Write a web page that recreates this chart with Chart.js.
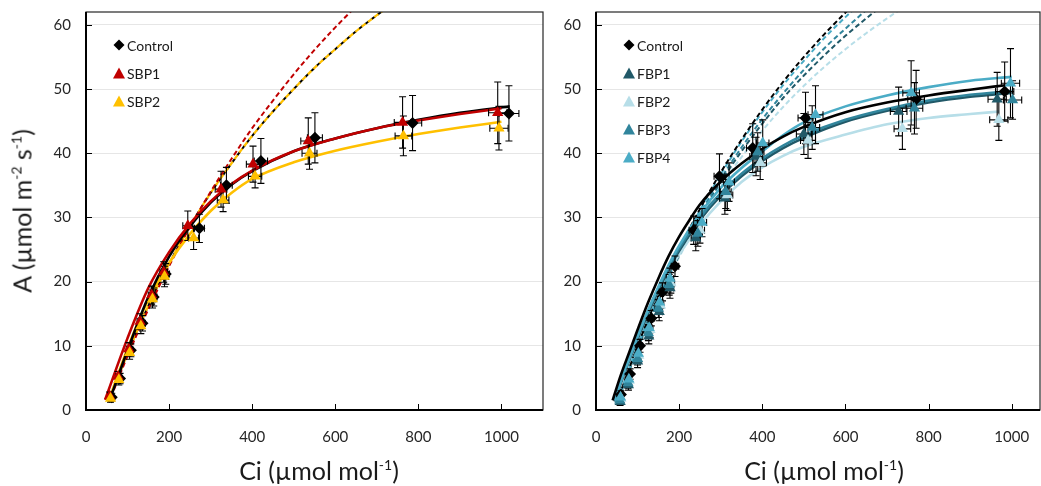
<!DOCTYPE html>
<html>
<head>
<meta charset="utf-8">
<script src="https://cdn.jsdelivr.net/npm/chart.js@4.4.1/dist/chart.umd.min.js"></script>
<style>
    html, body { margin: 0; padding: 0; background: #fff; }
    #wrap { position: relative; width: 1041px; height: 486px; overflow: hidden; font-family: Lato, "Open Sans", sans-serif; color: #1a1a1a; }
    .panel { position: absolute; top: 0; }
    .axis-title { position: absolute; font-size: 25px; white-space: nowrap; line-height: 1; }
    .axis-title sup { font-size: 14px; vertical-align: 10px; line-height: 0; }
    .legend { position: absolute; font-size: 14px; }
    .legend .row { height: 28px; display: flex; align-items: center; }
    .legend svg { margin-right: 2px; }
</style>
</head>
<body>
<div id="wrap">
    <canvas id="leftChart" class="panel" width="550" height="486" style="left:0"></canvas>
    <canvas id="rightChart" class="panel" width="496" height="486" style="left:545px"></canvas>

    <div class="axis-title" id="yTitle" style="left:22px; top:211px; transform: translate(-50%, -50%) rotate(-90deg);">A (µmol m<sup>-2</sup> s<sup>-1</sup>)</div>
    <div class="axis-title" style="left:319px; top:470px; transform: translate(-50%, -50%);">Ci (µmol mol<sup>-1</sup>)</div>
    <div class="axis-title" style="left:824px; top:470px; transform: translate(-50%, -50%);">Ci (µmol mol<sup>-1</sup>)</div>

    <div class="legend" id="leftLegend" style="left:113px; top:31px;"></div>
    <div class="legend" id="rightLegend" style="left:623px; top:31px;"></div>
</div>

<script>
(function () {
    'use strict';

    // ---- left panel: measured points (Ci, A, error in A, error in Ci) ----
    var leftCtrlCi = [62, 82, 108, 136, 163, 192, 273, 338, 421, 551, 786, 1018];
    var leftCtrlA = [2.0, 4.9, 9.3, 13.5, 17.6, 21.2, 28.3, 35.0, 38.8, 42.4, 44.7, 46.2];
    var leftCtrlErrA = [0.6, 0.8, 1.0, 1.2, 1.4, 1.6, 2.2, 2.8, 3.5, 3.9, 4.3, 4.3];
    var leftCtrlErrCi = [5, 5, 6, 7, 8, 9, 12, 14, 16, 18, 22, 24];

    var sbp1Ci = [57, 77, 103, 130, 158, 187, 245, 325, 402, 535, 762, 991];
    var sbp1A = [2.2, 5.2, 9.5, 13.8, 17.9, 21.5, 28.7, 34.4, 38.3, 41.9, 44.8, 46.3];
    var sbp1ErrA = [0.6, 0.8, 1.0, 1.2, 1.4, 1.6, 2.3, 2.8, 2.8, 3.6, 4.0, 4.8];
    var sbp1ErrCi = [5, 5, 6, 7, 8, 9, 12, 14, 16, 18, 20, 22];

    var sbp2Ci = [59, 79, 105, 132, 160, 189, 259, 330, 407, 538, 764, 994];
    var sbp2A = [1.8, 4.7, 8.9, 13.1, 17.3, 20.8, 26.8, 32.7, 36.4, 40.0, 42.7, 43.9];
    var sbp2ErrA = [0.6, 0.8, 1.0, 1.2, 1.4, 1.6, 1.8, 1.8, 1.8, 2.5, 3.1, 3.4];
    var sbp2ErrCi = [5, 5, 6, 7, 8, 9, 12, 14, 16, 18, 20, 22];

    // ---- left panel: fitted curves (solid) and Rubisco-limited curves (dashed) ----
    var leftCtrlFitCi = [55, 100, 150, 200, 250, 300, 350, 400, 500, 600, 700, 800, 900, 1020];
    var leftCtrlFitA = [1.2, 9.3, 17.6, 23.9, 28.6, 32.3, 35.1, 37.2, 40.3, 42.3, 43.9, 45.2, 46.3, 47.3];
    var sbp1FitCi = [46, 100, 150, 200, 250, 300, 350, 400, 500, 600, 700, 800, 900, 1000];
    var sbp1FitA = [1.6, 11.2, 19.0, 24.6, 29.0, 32.5, 35.2, 37.3, 40.3, 42.3, 43.9, 45.1, 46.1, 47.0];
    var sbp2FitCi = [55, 100, 150, 200, 250, 300, 350, 400, 500, 600, 700, 800, 900, 1000];
    var sbp2FitA = [1.5, 9.6, 17.2, 22.9, 27.4, 31.0, 33.8, 36.0, 38.6, 40.4, 41.8, 43.0, 44.0, 44.9];

    var leftCtrlRubCi = [60, 100, 150, 200, 250, 300, 350, 400, 450, 500, 550, 600, 650, 700, 750];
    var leftCtrlRubA = [2.2, 8.8, 16.2, 22.8, 28.6, 33.8, 38.4, 42.7, 46.5, 50.0, 53.3, 56.2, 59.0, 61.5, 63.8];
    var sbp1RubCi = [60, 100, 150, 200, 250, 300, 350, 400, 450, 500, 550, 600, 650];
    var sbp1RubA = [2.0, 8.4, 15.7, 22.4, 28.5, 34.0, 39.1, 43.9, 48.2, 52.3, 56.1, 59.6, 62.9];
    var sbp2RubCi = [60, 100, 150, 200, 250, 300, 350, 400, 450, 500, 550, 600, 650, 700, 750];
    var sbp2RubA = [2.2, 8.8, 16.2, 22.8, 28.6, 33.8, 38.4, 42.7, 46.5, 50.0, 53.3, 56.2, 59.0, 61.5, 63.8];

    // ---- right panel: measured points ----
    var rightCtrlCi = [60, 82, 106, 133, 160, 190, 235, 297, 377, 504, 770, 983];
    var rightCtrlA = [2.4, 5.6, 10.0, 14.3, 18.4, 22.4, 28.0, 36.4, 40.8, 45.5, 48.4, 49.6];
    var rightCtrlErrA = [0.6, 0.8, 1.0, 1.2, 1.4, 1.6, 2.2, 3.5, 3.8, 4.0, 4.5, 4.6];
    var rightCtrlErrCi = [5, 5, 6, 7, 8, 9, 11, 13, 15, 18, 20, 22];

    var fbp1Ci = [58, 78, 100, 127, 152, 178, 240, 310, 385, 500, 728, 965];
    var fbp1A = [1.3, 3.9, 7.6, 11.5, 15.3, 19.0, 26.8, 33.0, 39.5, 43.0, 46.5, 48.4];
    var fbp1ErrA = [0.6, 0.8, 1.0, 1.2, 1.4, 1.6, 2.0, 2.5, 3.0, 3.2, 3.8, 4.2];
    var fbp1ErrCi = [5, 5, 6, 7, 8, 9, 11, 13, 15, 18, 20, 22];

    var fbp2Ci = [60, 80, 103, 130, 155, 180, 250, 316, 395, 510, 737, 969];
    var fbp2A = [1.8, 4.6, 8.5, 12.5, 16.3, 19.8, 28.0, 33.5, 38.5, 42.0, 43.8, 45.2];
    var fbp2ErrA = [0.6, 0.8, 1.0, 1.2, 1.4, 1.6, 2.0, 2.4, 2.6, 2.8, 3.2, 3.2];
    var fbp2ErrCi = [5, 5, 6, 7, 8, 9, 11, 13, 15, 18, 20, 22];

    var fbp3Ci = [57, 77, 100, 126, 150, 176, 245, 312, 389, 520, 766, 1002];
    var fbp3A = [1.5, 4.2, 8.0, 12.0, 15.8, 19.5, 27.5, 34.0, 40.2, 44.0, 47.0, 48.3];
    var fbp3ErrA = [0.6, 0.8, 1.0, 1.2, 1.4, 1.6, 2.0, 2.6, 3.0, 3.4, 4.0, 3.0];
    var fbp3ErrCi = [5, 5, 6, 7, 8, 9, 11, 13, 15, 18, 20, 22];

    var fbp4Ci = [59, 79, 102, 128, 153, 178, 255, 320, 401, 528, 758, 997];
    var fbp4A = [2.0, 4.8, 8.8, 12.8, 16.8, 20.5, 29.2, 35.5, 41.6, 46.0, 49.4, 50.9];
    var fbp4ErrA = [0.6, 0.8, 1.0, 1.2, 1.4, 1.6, 2.2, 3.0, 3.6, 4.5, 5.0, 5.4];
    var fbp4ErrCi = [5, 5, 6, 7, 8, 9, 11, 13, 15, 18, 20, 22];

    // ---- right panel: fitted curves ----
    var rightCtrlFitCi = [40, 60, 80, 100, 125, 150, 175, 200, 225, 250, 300, 350, 400, 450, 500, 600, 700, 800, 900, 985];
    var rightCtrlFitA = [1.5, 5.5, 9.0, 12.5, 16.7, 20.5, 24.0, 27.0, 29.6, 32.0, 35.6, 38.4, 40.7, 42.6, 44.1, 46.4, 47.9, 49.0, 49.9, 50.6];
    var fbp1FitCi = [45, 60, 80, 100, 125, 150, 175, 200, 250, 300, 350, 400, 450, 500, 600, 700, 800, 900, 1000];
    var fbp1FitA = [1.3, 4.2, 7.7, 11.0, 15.0, 18.6, 21.9, 24.8, 29.6, 33.4, 36.4, 38.8, 40.8, 42.4, 44.9, 46.6, 47.9, 48.8, 49.4];
    var fbp2FitCi = [45, 60, 80, 100, 125, 150, 175, 200, 250, 300, 350, 400, 450, 500, 600, 700, 800, 900, 970];
    var fbp2FitA = [1.4, 4.3, 7.8, 11.1, 15.0, 18.4, 21.5, 24.2, 28.8, 32.5, 35.5, 37.8, 39.6, 41.0, 42.9, 44.5, 45.5, 46.1, 46.5];
    var fbp3FitCi = [45, 60, 80, 100, 125, 150, 175, 200, 250, 300, 350, 400, 450, 500, 600, 700, 800, 900, 1000];
    var fbp3FitA = [1.5, 4.5, 8.0, 11.4, 15.4, 19.0, 22.3, 25.2, 30.0, 33.8, 36.8, 39.2, 41.2, 42.8, 45.2, 46.9, 48.2, 49.1, 49.7];
    var fbp4FitCi = [45, 60, 80, 100, 125, 150, 175, 200, 250, 300, 350, 400, 450, 500, 600, 700, 800, 900, 1000];
    var fbp4FitA = [1.5, 4.5, 8.0, 11.5, 15.5, 19.2, 22.6, 25.6, 30.6, 34.6, 37.7, 40.3, 42.8, 44.8, 47.3, 49.0, 50.3, 51.3, 51.9];

    var rightCtrlRubCi = [50, 60, 100, 150, 200, 250, 300, 350, 400, 450, 500, 550, 600, 650];
    var rightCtrlRubA = [1.0, 2.9, 10.0, 17.9, 25.0, 31.3, 37.0, 42.1, 46.8, 51.1, 55.0, 58.6, 61.9, 65.0];
    var fbp4RubCi = [60, 100, 150, 200, 250, 300, 350, 400, 450, 500, 550, 600, 650];
    var fbp4RubA = [2.9, 10.0, 17.8, 24.9, 31.1, 36.7, 41.8, 46.4, 50.6, 54.4, 58.0, 61.2, 64.2];
    var fbp3RubCi = [60, 100, 150, 200, 250, 300, 350, 400, 450, 500, 550, 600, 650, 700];
    var fbp3RubA = [2.8, 9.8, 17.5, 24.4, 30.5, 36.0, 40.9, 45.3, 49.3, 53.0, 56.4, 59.4, 62.3, 65.0];
    var fbp1RubCi = [60, 100, 150, 200, 250, 300, 350, 400, 450, 500, 550, 600, 650, 700];
    var fbp1RubA = [2.6, 9.5, 17.2, 24.1, 30.1, 35.5, 40.3, 44.6, 48.6, 52.1, 55.3, 58.3, 61.0, 63.6];
    var fbp2RubCi = [60, 100, 150, 200, 250, 300, 350, 400, 450, 500, 550, 600, 650, 700, 750];
    var fbp2RubA = [2.5, 9.4, 17.0, 23.8, 29.7, 34.9, 39.4, 43.5, 47.2, 50.5, 53.5, 56.2, 58.7, 61.0, 63.2];

    var yTicks = [0, 10, 20, 30, 40, 50, 60];
    var xTicks = [0, 200, 400, 600, 800, 1000];

    var C = {
        control: '#000000',
        sbp1: '#C00000',
        sbp2: '#FFC000',
        fbp1: '#215968',
        fbp2: '#B7DEE8',
        fbp3: '#31859C',
        fbp4: '#4BACC6'
    };

    function pts(xs, ys) {
        return xs.map(function (x, i) { return { x: x, y: ys[i] }; });
    }

    function markers(label, xs, ys, errY, errX, color, shape, order) {
        return {
            label: label,
            kind: 'points',
            data: pts(xs, ys),
            errY: errY,
            errX: errX,
            showLine: false,
            pointStyle: shape,
            pointRadius: shape === 'rectRot' ? 6 : 6.5,
            pointHoverRadius: shape === 'rectRot' ? 6 : 6.5,
            pointBorderWidth: 0,
            backgroundColor: color,
            borderColor: color,
            order: order
        };
    }

    function curve(xs, ys, color, dashed, order, width, offset) {
        return {
            kind: 'curve',
            data: pts(xs, ys),
            showLine: true,
            pointRadius: 0,
            pointHoverRadius: 0,
            borderColor: color,
            borderWidth: width || (dashed ? 2 : 2.6),
            borderDash: dashed ? [5, 3] : [],
            borderDashOffset: offset || 0,
            cubicInterpolationMode: 'monotone',
            fill: false,
            order: order
        };
    }

    // error bars, drawn just before the first marker dataset
    function drawErrorBars(chart) {
        var ctx = chart.ctx, xs = chart.scales.x, ys = chart.scales.y;
        ctx.save();
        ctx.strokeStyle = '#000';
        ctx.lineWidth = 1.1;
        chart.data.datasets.forEach(function (ds) {
            if (ds.kind !== 'points') return;
            ds.data.forEach(function (p, i) {
                var px = xs.getPixelForValue(p.x), py = ys.getPixelForValue(p.y);
                var t = ys.getPixelForValue(p.y + ds.errY[i]), b = ys.getPixelForValue(p.y - ds.errY[i]);
                var l = xs.getPixelForValue(p.x - ds.errX[i]), r = xs.getPixelForValue(p.x + ds.errX[i]);
                ctx.beginPath();
                ctx.moveTo(px, t); ctx.lineTo(px, b);
                ctx.moveTo(px - 3.5, t); ctx.lineTo(px + 3.5, t);
                ctx.moveTo(px - 3.5, b); ctx.lineTo(px + 3.5, b);
                ctx.moveTo(l, py); ctx.lineTo(r, py);
                ctx.moveTo(l, py - 3.5); ctx.lineTo(l, py + 3.5);
                ctx.moveTo(r, py - 3.5); ctx.lineTo(r, py + 3.5);
                ctx.stroke();
            });
        });
        ctx.restore();
    }

    var errorBarPlugin = {
        id: 'errorBars',
        beforeDatasetsDraw: function (chart) { chart._barsDone = false; },
        beforeDatasetDraw: function (chart, args) {
            var ds = chart.data.datasets[args.index];
            if (ds.kind === 'points' && !chart._barsDone) {
                drawErrorBars(chart);
                chart._barsDone = true;
            }
        }
    };

    // frame round the plot area plus inward tick marks
    var framePlugin = {
        id: 'frame',
        afterDraw: function (chart) {
            var a = chart.chartArea, ctx = chart.ctx;
            var xs = chart.scales.x, ys = chart.scales.y;
            ctx.save();
            ctx.strokeStyle = '#262626';
            ctx.lineWidth = 1.2;
            ctx.strokeRect(a.left, a.top, a.right - a.left, a.bottom - a.top);
            ctx.lineWidth = 2;
            ctx.strokeStyle = '#000';
            ctx.beginPath();
            ctx.moveTo(a.left, a.top); ctx.lineTo(a.left, a.bottom); ctx.lineTo(a.right, a.bottom);
            ctx.stroke();
            ctx.lineWidth = 1;
            ctx.beginPath();
            xTicks.forEach(function (v) {
                var px = Math.round(xs.getPixelForValue(v)) + 0.5;
                ctx.moveTo(px, a.bottom); ctx.lineTo(px, a.bottom - 6);
            });
            yTicks.forEach(function (v) {
                var py = Math.round(ys.getPixelForValue(v)) + 0.5;
                ctx.moveTo(a.left, py); ctx.lineTo(a.left + 6, py);
            });
            ctx.stroke();
            ctx.restore();
        }
    };

    function makeChart(id, datasets, xMax, yAxisWidth, rightPad) {
        var canvas = document.getElementById(id);
        return new Chart(canvas.getContext('2d'), {
            type: 'scatter',
            data: { datasets: datasets },
            plugins: [errorBarPlugin, framePlugin],
            options: {
                responsive: false,
                animation: false,
                events: [],
                layout: { autoPadding: false, padding: { top: 12, right: rightPad, left: 0, bottom: 0 } },
                plugins: { legend: { display: false }, tooltip: { enabled: false } },
                scales: {
                    x: {
                        type: 'linear',
                        min: 0,
                        max: xMax,
                        afterBuildTicks: function (s) {
                            s.ticks = xTicks.map(function (v) { return { value: v }; });
                        },
                        afterFit: function (s) {
                            s.height = 76;
                            s.paddingLeft = 0;
                            s.paddingRight = 0;
                        },
                        grid: { display: false, drawTicks: false },
                        border: { display: false },
                        ticks: {
                            padding: 18,
                            maxRotation: 0,
                            color: '#262626',
                            font: { family: 'Lato', size: 15 },
                            callback: function (v) { return String(v); }
                        }
                    },
                    y: {
                        type: 'linear',
                        min: 0,
                        max: 62,
                        afterBuildTicks: function (s) {
                            s.ticks = yTicks.map(function (v) { return { value: v }; });
                        },
                        afterFit: function (s) {
                            s.width = yAxisWidth;
                            s.paddingTop = 0;
                            s.paddingBottom = 0;
                        },
                        grid: { color: '#e6e6e6', lineWidth: 1, drawTicks: false },
                        border: { display: false },
                        ticks: {
                            padding: 15,
                            color: '#262626',
                            font: { family: 'Lato', size: 15 },
                            callback: function (v) { return String(v); }
                        }
                    }
                }
            }
        });
    }

    var leftSets = [
        markers('Control', leftCtrlCi, leftCtrlA, leftCtrlErrA, leftCtrlErrCi, C.control, 'rectRot', 3),
        markers('SBP1', sbp1Ci, sbp1A, sbp1ErrA, sbp1ErrCi, C.sbp1, 'triangle', 2),
        markers('SBP2', sbp2Ci, sbp2A, sbp2ErrA, sbp2ErrCi, C.sbp2, 'triangle', 1),
        curve(leftCtrlFitCi, leftCtrlFitA, C.control, false, 11),
        curve(sbp1FitCi, sbp1FitA, C.sbp1, false, 10),
        curve(sbp2FitCi, sbp2FitA, C.sbp2, false, 12),
        curve(sbp1RubCi, sbp1RubA, C.sbp1, true, 13),
        curve(leftCtrlRubCi, leftCtrlRubA, C.control, true, 15, 2),
        curve(sbp2RubCi, sbp2RubA, C.sbp2, true, 14, 2.2, 4)
    ];

    var rightSets = [
        markers('Control', rightCtrlCi, rightCtrlA, rightCtrlErrA, rightCtrlErrCi, C.control, 'rectRot', 5),
        markers('FBP1', fbp1Ci, fbp1A, fbp1ErrA, fbp1ErrCi, C.fbp1, 'triangle', 4),
        markers('FBP2', fbp2Ci, fbp2A, fbp2ErrA, fbp2ErrCi, C.fbp2, 'triangle', 3),
        markers('FBP3', fbp3Ci, fbp3A, fbp3ErrA, fbp3ErrCi, C.fbp3, 'triangle', 2),
        markers('FBP4', fbp4Ci, fbp4A, fbp4ErrA, fbp4ErrCi, C.fbp4, 'triangle', 1),
        curve(rightCtrlFitCi, rightCtrlFitA, C.control, false, 10),
        curve(fbp1FitCi, fbp1FitA, C.fbp1, false, 13),
        curve(fbp2FitCi, fbp2FitA, C.fbp2, false, 14),
        curve(fbp3FitCi, fbp3FitA, C.fbp3, false, 12),
        curve(fbp4FitCi, fbp4FitA, C.fbp4, false, 11),
        curve(rightCtrlRubCi, rightCtrlRubA, C.control, true, 15),
        curve(fbp4RubCi, fbp4RubA, C.fbp4, true, 16),
        curve(fbp3RubCi, fbp3RubA, C.fbp3, true, 17),
        curve(fbp1RubCi, fbp1RubA, C.fbp1, true, 18),
        curve(fbp2RubCi, fbp2RubA, C.fbp2, true, 19)
    ];

    makeChart('leftChart', leftSets, 1100, 86, 7);
    makeChart('rightChart', rightSets, 1068, 51, 1);

    // legends built from the marker datasets
    function legendIcon(shape, color) {
        if (shape === 'rectRot') {
            return '<svg width="12" height="12"><polygon points="6,0.5 11.5,6 6,11.5 0.5,6" fill="' + color + '"/></svg>';
        }
        return '<svg width="12" height="12"><polygon points="6,0.5 12,11.5 0,11.5" fill="' + color + '"/></svg>';
    }

    function buildLegend(elId, sets) {
        var html = '';
        sets.forEach(function (ds) {
            if (ds.kind !== 'points') return;
            html += '<div class="row">' + legendIcon(ds.pointStyle, ds.backgroundColor) +
                '<span>' + ds.label + '</span></div>';
        });
        document.getElementById(elId).innerHTML = html;
    }

    buildLegend('leftLegend', leftSets);
    buildLegend('rightLegend', rightSets);
})();
</script>
</body>
</html>
